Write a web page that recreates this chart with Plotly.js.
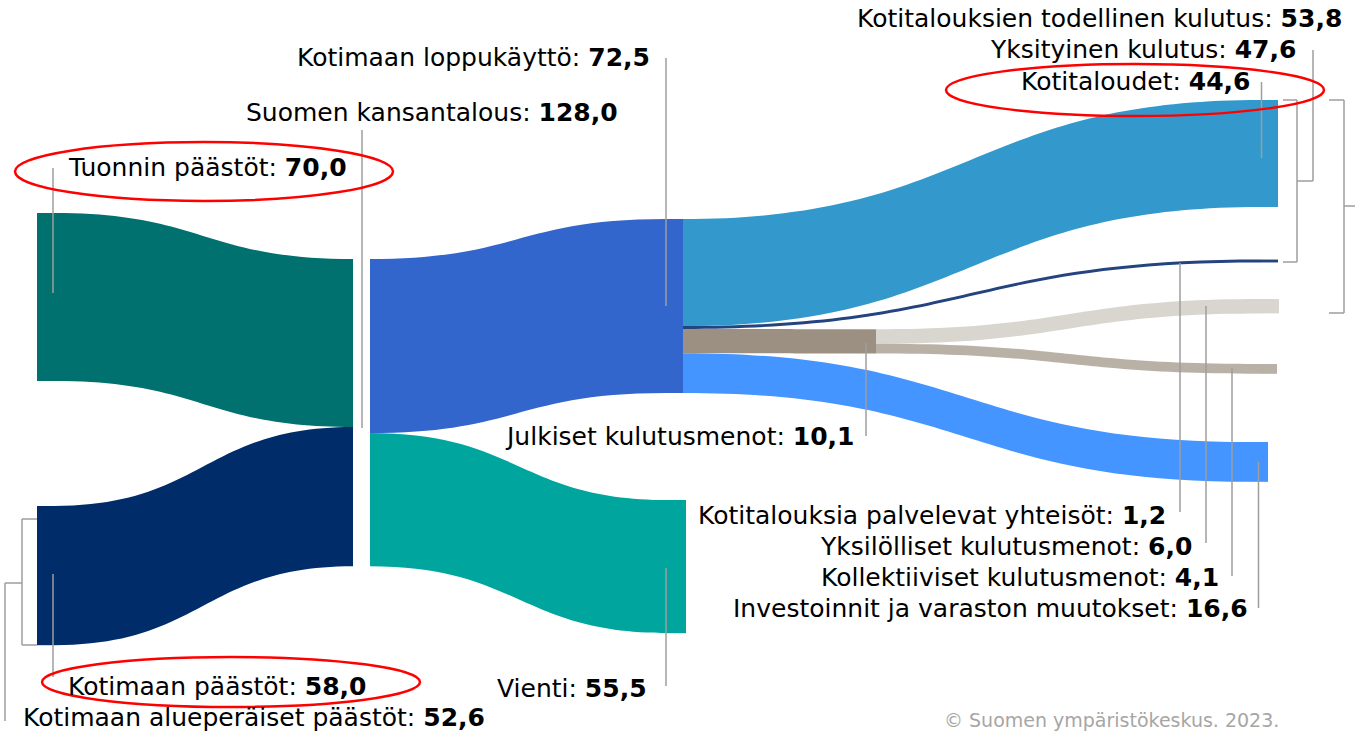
<!DOCTYPE html>
<html><head><meta charset="utf-8">
<script src="https://cdn.plot.ly/plotly-3.0.1.min.js"></script>
<style>html,body{margin:0;padding:0;background:#fff;overflow:hidden}#chart{width:1355px;height:733px}</style>
</head><body><div id="chart"></div>
<script>
// ---- data ----
const nodeNames = ['Tuonnin päästöt','Kotimaan päästöt','Suomen kansantalous','Kotimaan loppukäyttö','Vienti',
  'Kotitaloudet','Kotitalouksia palvelevat yhteisöt','Julkiset kulutusmenot','Investoinnit ja varaston muutokset',
  'Yksilölliset kulutusmenot','Kollektiiviset kulutusmenot'];
const nodeValues = [70.0, 58.0, 128.0, 72.5, 55.5, 44.6, 1.2, 10.1, 16.6, 6.0, 4.1];
const linkSource = [0, 1, 2, 2, 3, 3, 3, 3, 7, 7];
const linkTarget = [2, 2, 3, 4, 5, 6, 7, 8, 9, 10];
const linkValues = [70.0, 58.0, 72.5, 55.5, 44.6, 1.2, 10.1, 16.6, 6.0, 4.1];
const groupNames = ['Kotitalouksien todellinen kulutus', 'Yksityinen kulutus', 'Kotimaan alueperäiset päästöt'];
const groupValues = [53.8, 47.6, 52.6];
const sourceNote = '© Suomen ympäristökeskus. 2023.';

// ---- styles / layout ----
const W = 1355, H = 733;
const nodeColors = ['#00716E','#002D6A','rgba(0,0,0,0)','#3366CC','#00A69D','#3399CC','#23447E','#9C9082','#4495FF','#D9D6CF','#B9B1A6'];
const linkColors = ['#00716E','#002D6A','#3366CC','#00A69D','#3399CC','#23447E','#9C9082','#4495FF','#D9D6CF','#B9B1A6'];
// node centre positions in pixels
const nodePxX = [45.5, 45.5, 361.5, 674.5, 677.5, 1269.5, 1269.5, 867.5, 1259.5, 1270.5, 1268.5];
const nodePxY = [297, 575.6, 412.6, 306, 566.6, 153.5, 261, 341.4, 461.9, 306.2, 368.9];

const fmt = v => v.toFixed(1).replace('.', ',');
const FS = 25, FONT = 'DejaVu Sans';
const px = x => x / W, pyp = y => 1 - y / H;

function lbl(text, v, x, base, anchor) {
  return {text: text + ': <b>' + fmt(v) + '</b>', xref:'paper', yref:'paper', x: px(x), y: pyp(base - 8.7),
    xanchor: anchor, yanchor:'middle', showarrow:false, font:{family:FONT, size:FS, color:'#000'}};
}
const annotations = [
  lbl(nodeNames[0], nodeValues[0], 66, 176, 'left'),
  lbl(nodeNames[2], nodeValues[2], 244, 121, 'left'),
  lbl(nodeNames[3], nodeValues[3], 652, 66, 'right'),
  lbl(nodeNames[7], nodeValues[7], 857, 445, 'right'),
  lbl(groupNames[0], groupValues[0], 1344, 27, 'right'),
  lbl(groupNames[1], groupValues[1], 1298, 58, 'right'),
  lbl(nodeNames[5], nodeValues[5], 1253, 90, 'right'),
  lbl(nodeNames[6], nodeValues[6], 1168, 524, 'right'),
  lbl(nodeNames[9], nodeValues[9], 1194, 555, 'right'),
  lbl(nodeNames[10], nodeValues[10], 1221, 586.5, 'right'),
  lbl(nodeNames[8], nodeValues[8], 1250, 617, 'right'),
  lbl(nodeNames[1], nodeValues[1], 66, 695, 'left'),
  lbl(groupNames[2], groupValues[2], 21, 726, 'left'),
  lbl(nodeNames[4], nodeValues[4], 649, 697, 'right'),
  {text: sourceNote, xref:'paper', yref:'paper', x: px(1281), y: pyp(727 - 6.6), xanchor:'right', yanchor:'middle',
   showarrow:false, font:{family:FONT, size:19, color:'#A6A6A6'}}
];

const segs = [
  [53,168,53,293],[53,574,53,677],[362,130,362,428],[666,58,666,306],[666,568,666,686],
  [866,343,866,436],[1261.5,82,1261.5,158],[1180,263,1180,512],[1206,306,1206,543],
  [1232,368,1232,576],[1258.5,462,1258.5,608],
  // left bracket
  [37,519,22,519],[22,519,22,645],[22,645,37,645],[22,583,5,583],[5,583,5,721],
  // right brackets
  [1283,100,1297,100],[1297,100,1297,262],[1297,262,1283,262],[1297,181,1313,181],[1313,181,1313,50],
  [1329,100,1344,100],[1344,100,1344,313],[1344,313,1329,313],[1344,206,1356,206]
];
const shapes = segs.map(s => ({type:'line', xref:'paper', yref:'paper', x0:px(s[0]), y0:pyp(s[1]), x1:px(s[2]), y1:pyp(s[3]),
  line:{color:'#9E9E9E', width:1.5}, layer:'above'}));
const ellipses = [[15,142,393,201],[42,657,420,707],[946,64,1324,116]];
ellipses.forEach(e => shapes.push({type:'circle', xref:'paper', yref:'paper', x0:px(e[0]), y0:pyp(e[3]), x1:px(e[2]), y1:pyp(e[1]),
  line:{color:'#FF0000', width:2.5}, fillcolor:'rgba(0,0,0,0)', layer:'above'}));

const trace = {
  type:'sankey', arrangement:'fixed', domain:{x:[0,1], y:[0,1]}, hoverinfo:'none',
  node:{label: nodeNames.map(() => ''), x: nodePxX.map(v => v / W), y: nodePxY.map(v => v / H),
    color: nodeColors, thickness:17, pad:85.16, line:{width:0}, hoverinfo:'none'},
  link:{source: linkSource, target: linkTarget, value: linkValues, color: linkColors, hoverinfo:'none'}
};
const layout = {width:W, height:H, margin:{l:0,r:0,t:0,b:0,pad:0}, paper_bgcolor:'#fff', plot_bgcolor:'#fff',
  showlegend:false, annotations, shapes, font:{family:FONT}};
Plotly.newPlot('chart', [trace], layout, {staticPlot:true, displayModeBar:false});
</script></body></html>
